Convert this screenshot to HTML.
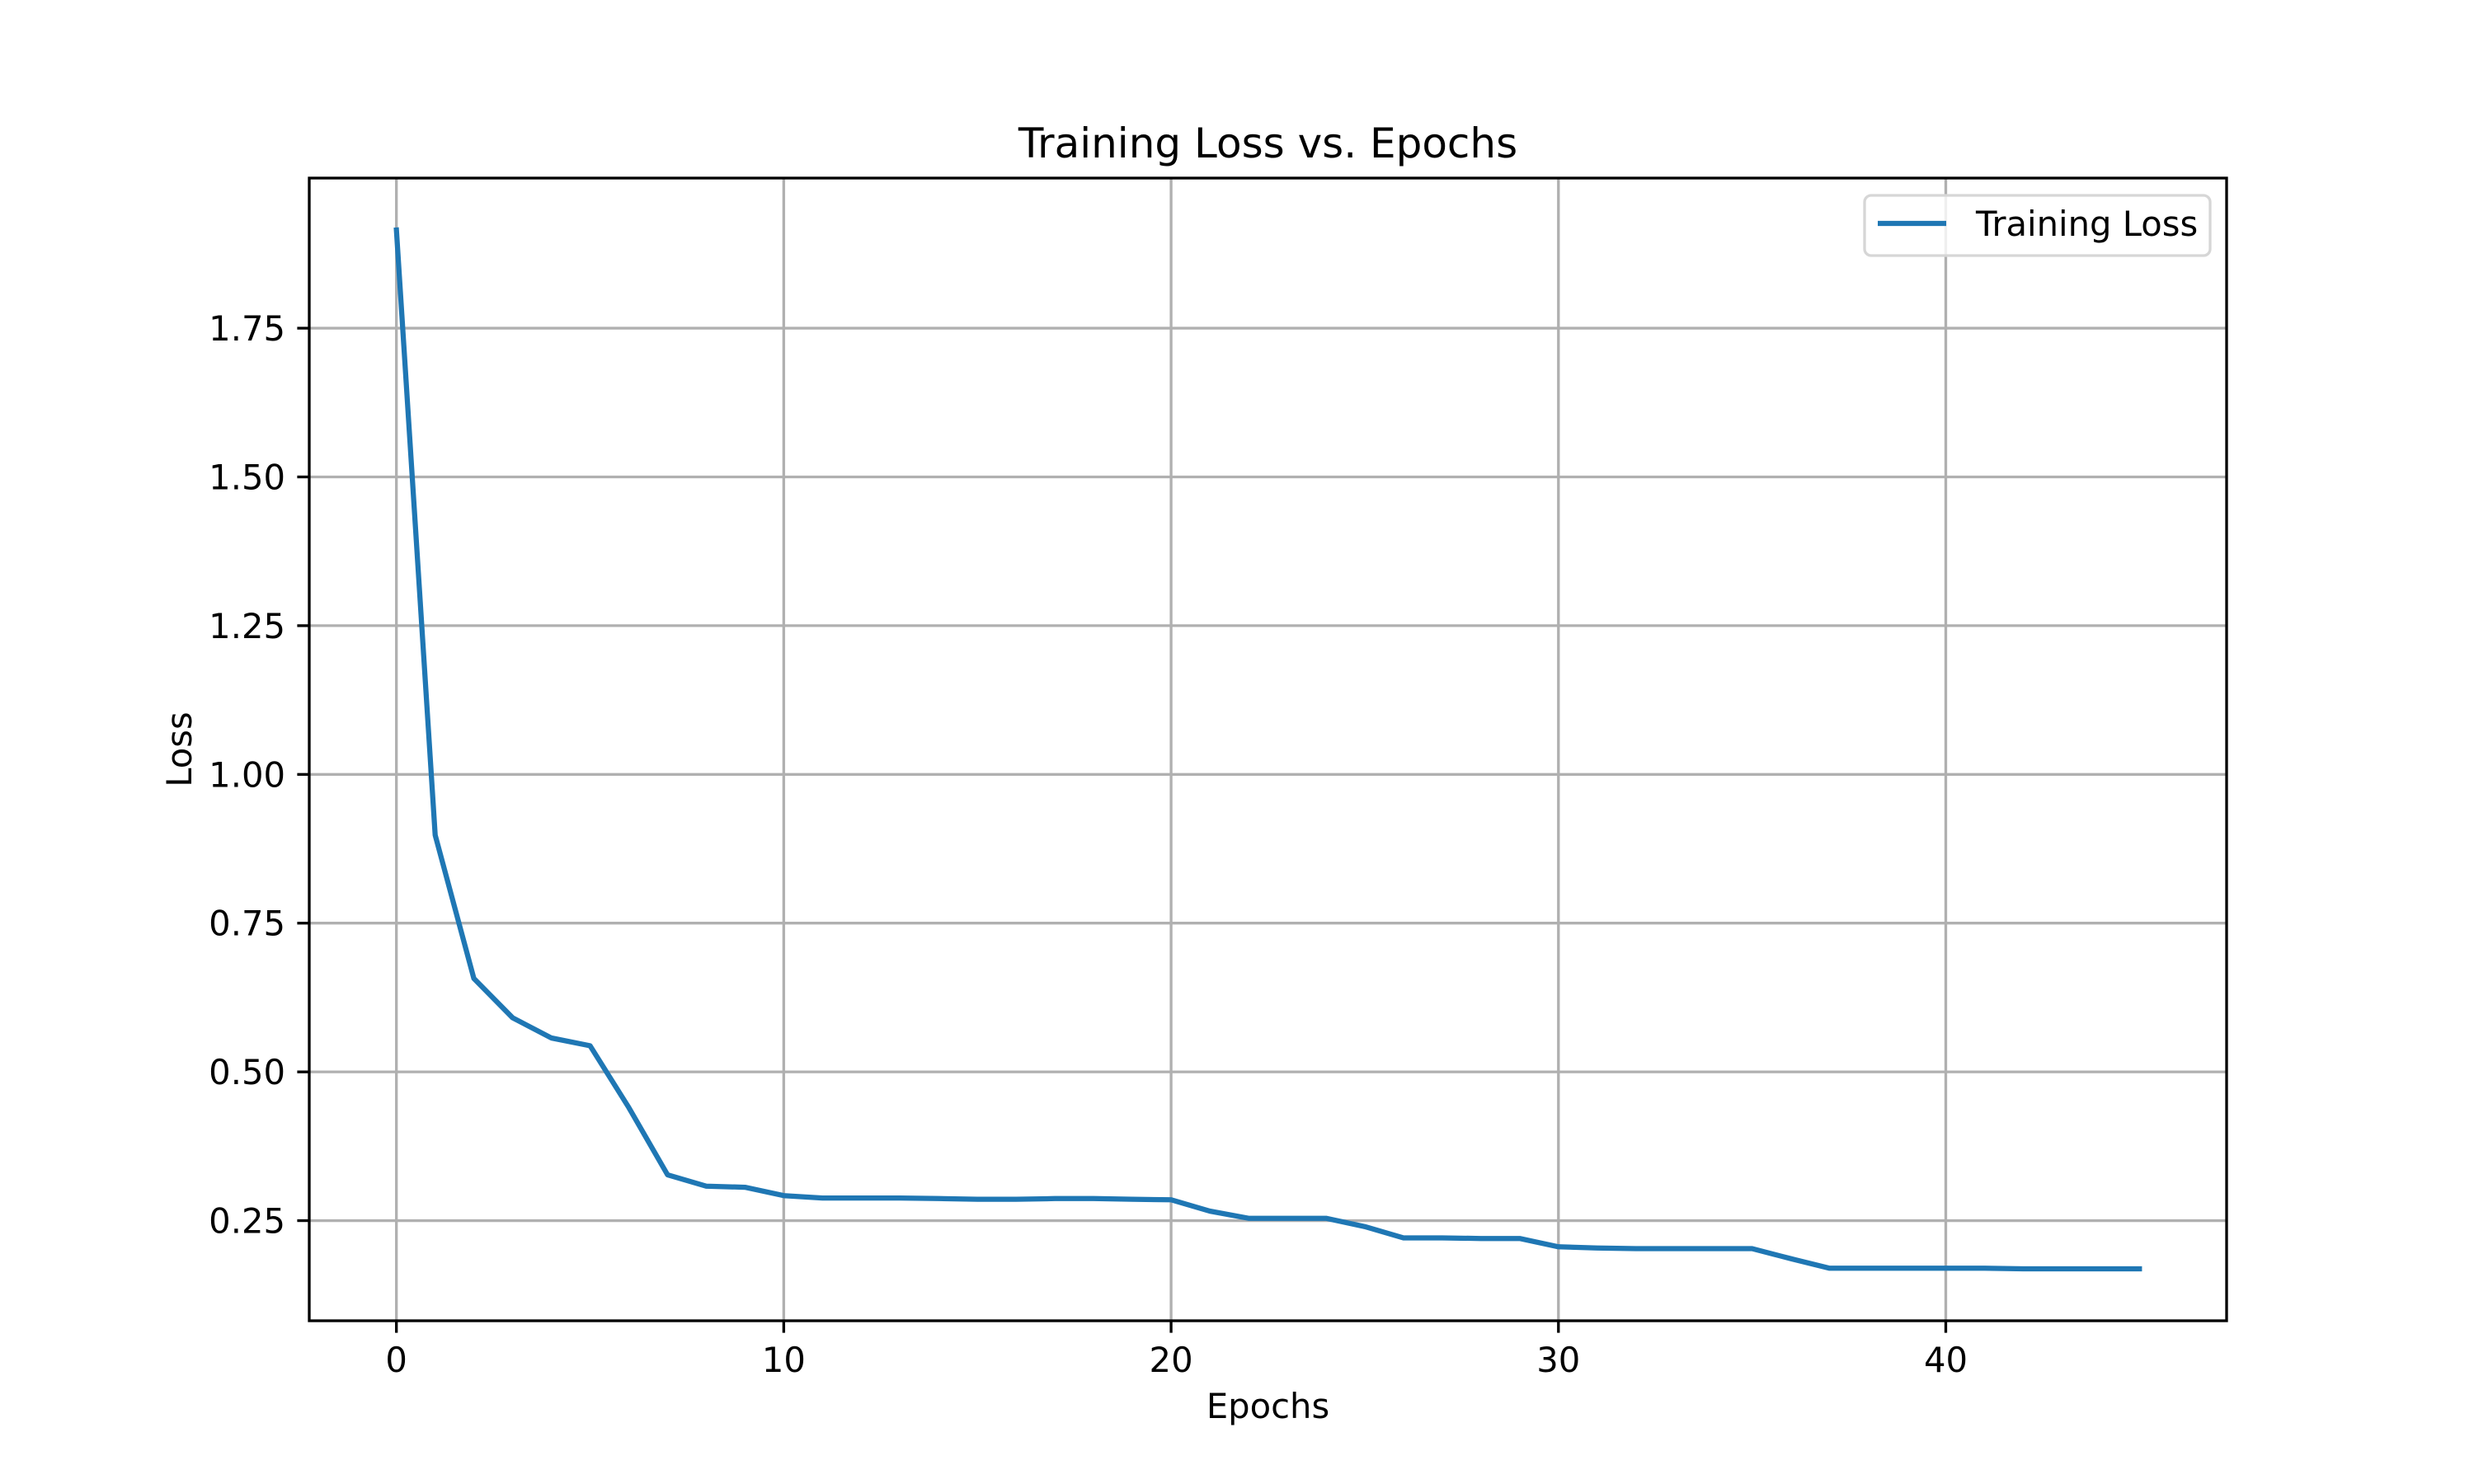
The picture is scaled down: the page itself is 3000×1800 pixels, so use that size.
<!DOCTYPE html>
<html><head><meta charset="utf-8"><style>
html,body{margin:0;padding:0;background:#fff}
svg{display:block}
text{font-family:"DejaVu Sans","Liberation Sans",sans-serif;fill:#000}
</style></head><body>
<svg id="chart" width="3000" height="1800" viewBox="0 0 3000 1800" xmlns="http://www.w3.org/2000/svg">
<rect width="3000" height="1800" fill="#fff"/>
<g id="grid"></g>
<g id="ticks"></g>
<polyline id="line" fill="none" stroke="#1f77b4" stroke-width="6.25" stroke-linejoin="round" stroke-linecap="square"/>
<rect x="375" y="216" width="2325" height="1386" fill="none" stroke="#000" stroke-width="3.33"/>
<text x="1537.5" y="191" font-size="50" text-anchor="middle">Training Loss vs. Epochs</text>
<text x="1537.5" y="1720" font-size="41.7" text-anchor="middle">Epochs</text>
<text x="0" y="0" font-size="41.7" text-anchor="middle" transform="translate(232,909) rotate(-90)">Loss</text>
<g>
<rect x="2261" y="237" width="419" height="73" rx="8" fill="#fff" fill-opacity="0.8" stroke="#d6d6d6" stroke-width="3.33"/>
<line x1="2277" y1="271" x2="2360" y2="271" stroke="#1f77b4" stroke-width="6.25"/>
<text x="2396" y="286" font-size="41.7">Training Loss</text>
</g>
</svg>
<script>
const epochs = [0,1,2,3,4,5,6,7,8,9,10,11,12,13,14,15,16,17,18,19,20,21,22,23,24,25,26,27,28,29,30,31,32,33,34,35,36,37,38,39,40,41,42,43,44,45];
const lossValues = [1.915,0.898,0.657,0.591,0.557,0.544,0.44,0.327,0.308,0.306,0.292,0.288,0.288,0.288,0.287,0.286,0.286,0.287,0.287,0.286,0.285,0.266,0.254,0.254,0.254,0.24,0.221,0.221,0.220,0.220,0.206,0.204,0.203,0.203,0.203,0.203,0.186,0.170,0.170,0.170,0.170,0.170,0.169,0.169,0.169,0.169];
const xTickValues = [0,10,20,30,40];
const yTickValues = [0.25,0.5,0.75,1.0,1.25,1.5,1.75];
const yTickLabels = ["0.25","0.50","0.75","1.00","1.25","1.50","1.75"];

const L=375,R=2700,T=216,B=1602;
const xmin0=Math.min(...epochs), xmax0=Math.max(...epochs);
const xpad=(xmax0-xmin0)*0.05, xmin=xmin0-xpad, xmax=xmax0+xpad;
const ymin0=Math.min(...lossValues), ymax0=Math.max(...lossValues);
const ypad=(ymax0-ymin0)*0.05, ymin=ymin0-ypad, ymax=ymax0+ypad;
function xs(v){return L+(v-xmin)/(xmax-xmin)*(R-L);}
function ys(v){return B-(v-ymin)/(ymax-ymin)*(B-T);}
const NS="http://www.w3.org/2000/svg";
const grid=document.getElementById('grid'), ticks=document.getElementById('ticks');
function mk(tag,attrs,parent){const e=document.createElementNS(NS,tag);for(const k in attrs)e.setAttribute(k,attrs[k]);parent.appendChild(e);return e;}
xTickValues.forEach(v=>{
  const x=xs(v);
  const g=mk('line',{x1:x,x2:x,y1:T,y2:B,stroke:'#b0b0b0','stroke-width':3.33},grid);
  
  
  const t=mk('line',{x1:x,x2:x,y1:B,y2:B+14.6,stroke:'#000','stroke-width':3.33},ticks);
  
  
  const lb=mk('text',{x:x,y:B+62,'font-size':41.7,'text-anchor':'middle'},ticks);
  lb.textContent=String(v);
  
  
});
yTickValues.forEach((v,i)=>{
  const y=ys(v);
  const g=mk('line',{x1:L,x2:R,y1:y,y2:y,stroke:'#b0b0b0','stroke-width':3.33},grid);
  
  
  const t=mk('line',{x1:L-14.6,x2:L,y1:y,y2:y,stroke:'#000','stroke-width':3.33},ticks);
  
  
  const lb=mk('text',{x:L-29,y:y+15,'font-size':41.7,'text-anchor':'end'},ticks);
  lb.textContent=yTickLabels[i];
  
  
});
document.getElementById('line').setAttribute('points',epochs.map((e,i)=>xs(e).toFixed(1)+','+ys(lossValues[i]).toFixed(1)).join(' '));
</script>
</body></html>
